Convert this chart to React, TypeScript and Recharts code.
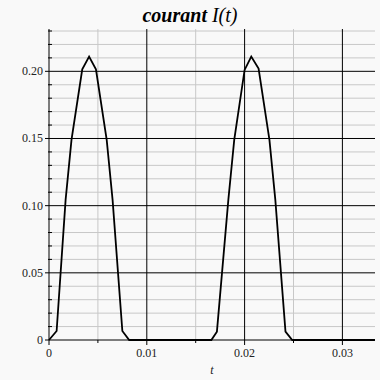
import { LineChart, Line, XAxis, YAxis, ReferenceLine } from "recharts";

// courant I(t) : sommets
const tValues = [
  0, 0.00078, 0.0017, 0.0023, 0.0034, 0.0041, 0.0048, 0.0059, 0.0065, 0.0075, 0.0082,
  0.0166, 0.01717, 0.01834, 0.01894, 0.02, 0.02068, 0.02143, 0.02254, 0.02314, 0.02418, 0.02487,
  0.03333,
];
const iValues = [
  0, 0.0067, 0.1045, 0.149, 0.2015, 0.211, 0.2015, 0.149, 0.1045, 0.0067, 0,
  0, 0.0062, 0.1045, 0.149, 0.201, 0.211, 0.202, 0.149, 0.1045, 0.0062, 0,
  0,
];

const xMajor = [0, 0.01, 0.02, 0.03];
const xMinor = [0.005, 0.015, 0.025];
const yMajor = [0, 0.05, 0.1, 0.15, 0.2];
const yMinor = [
  0.01, 0.02, 0.03, 0.04, 0.06, 0.07, 0.08, 0.09, 0.11, 0.12, 0.13, 0.14, 0.16, 0.17, 0.18,
  0.19, 0.21, 0.22, 0.23,
];
const xLabels = ["0", "0.01", "0.02", "0.03"];
const yLabels = ["0", "0.05", "0.10", "0.15", "0.20"];

const data = tValues.map((t, i) => ({ t, I: iValues[i] }));
const xTicks = [...xMajor, ...xMinor].sort((a, b) => a - b);
const yTicks = [...yMajor, ...yMinor].sort((a, b) => a - b);

const FONT = "'Liberation Serif', 'DejaVu Serif', serif";
const GRID = "#c8c8c8";
const tickText = { fontFamily: FONT, fontSize: 12, fill: "#222" };

const isMajor = (list: number[], v: number) => list.findIndex((m) => Math.abs(m - v) < 1e-9);

function XTick(props: any) {
  const { x, y, payload } = props;
  const k = isMajor(xMajor, payload.value);
  if (k < 0) return <line x1={x} x2={x} y1={y} y2={y + 3} stroke="#000" />;
  return (
    <g>
      <line x1={x} x2={x} y1={y} y2={y + 5} stroke="#000" />
      <text x={x} y={y + 17} textAnchor="middle" style={tickText}>
        {xLabels[k]}
      </text>
    </g>
  );
}

function YTick(props: any) {
  const { x, y, payload } = props;
  const k = isMajor(yMajor, payload.value);
  if (k < 0) return <line x1={x - 1} x2={x + 3} y1={y} y2={y} stroke="#000" />;
  return (
    <g>
      <line x1={x - 4} x2={x} y1={y} y2={y} stroke="#000" />
      <text x={x - 6} y={y + 4} textAnchor="end" style={tickText}>
        {yLabels[k]}
      </text>
    </g>
  );
}

export default function App() {
  return (
    <div style={{ position: "absolute", left: 0, top: 0, width: 380, height: 380, background: "#f9f9f9" }}>
      <div
        style={{
          position: "absolute",
          top: 5,
          left: 0,
          width: 380,
          textAlign: "center",
          fontFamily: FONT,
          fontSize: 20,
          lineHeight: "20px",
          fontStyle: "italic",
          color: "#000",
        }}
      >
        <b>courant</b> I(t)
      </div>
      <LineChart width={380} height={380} data={data} margin={{ top: 29, right: 5, bottom: 0, left: 0 }}>
        <XAxis
          dataKey="t"
          type="number"
          domain={[0, 1 / 30]}
          ticks={xTicks}
          interval={0}
          height={40}
          tickSize={0}
          tickMargin={0}
          tickLine={false}
          axisLine={{ stroke: "#000" }}
          tick={<XTick />}
          label={{ value: "t", position: "insideBottom", offset: 6, style: { ...tickText, fontStyle: "italic" } }}
        />
        <YAxis
          type="number"
          domain={[0, 0.2315]}
          ticks={yTicks}
          interval={0}
          width={49}
          tickSize={0}
          tickMargin={0}
          tickLine={false}
          axisLine={{ stroke: "#000" }}
          tick={<YTick />}
        />
        {yMinor.map((v) => (
          <ReferenceLine key={"ym" + v} y={v} stroke={GRID} />
        ))}
        {xMinor.map((v) => (
          <ReferenceLine key={"xm" + v} x={v} stroke={GRID} />
        ))}
        {yMajor.filter((v) => v > 0).map((v) => (
          <ReferenceLine key={"yM" + v} y={v} stroke="#000" />
        ))}
        {xMajor.filter((v) => v > 0).map((v) => (
          <ReferenceLine key={"xM" + v} x={v} stroke="#000" />
        ))}
        <Line type="linear" dataKey="I" stroke="#000" strokeWidth={1.8} dot={false} isAnimationActive={false} />
      </LineChart>
    </div>
  );
}
